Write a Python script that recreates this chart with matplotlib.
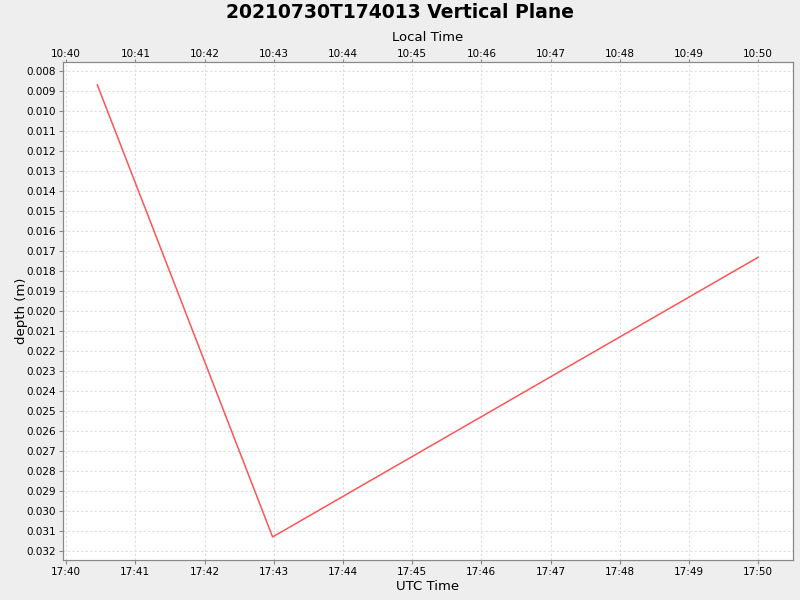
import datetime as dt
import matplotlib
matplotlib.use("Agg")
import matplotlib.pyplot as plt
import matplotlib.dates as mdates

# -------- DATA -------- #
utc_times = ["2021-07-30 17:40:27", "2021-07-30 17:42:59", "2021-07-30 17:50:00"]
depths = [0.00871, 0.03128, 0.01732]
y_ticks = [0.008 + 0.001 * i for i in range(25)]

local_offset = dt.timedelta(hours=-7)

t_utc = [dt.datetime.strptime(s, "%Y-%m-%d %H:%M:%S") for s in utc_times]
x_lo = dt.datetime(2021, 7, 30, 17, 39, 57)
x_hi = dt.datetime(2021, 7, 30, 17, 50, 30)

fig = plt.figure(figsize=(8, 6), dpi=100, facecolor="#eeeeee")
ax = fig.add_axes([0.0784, 0.0667, 0.9125, 0.83])
ax.set_facecolor("white")

ax.plot(t_utc, depths, color="#ff5555", linewidth=1.1)

ax.set_xlim(x_lo, x_hi)
ax.set_ylim(0.03243, 0.00757)
ax.set_yticks(y_ticks)
ax.yaxis.set_major_formatter(plt.FuncFormatter(lambda v, p: f"{v:.3f}"))
ax.xaxis.set_major_locator(mdates.MinuteLocator())
ax.xaxis.set_major_formatter(mdates.DateFormatter("%H:%M"))

ax.grid(True, color="#dddddd", linestyle=(0, (2, 2)), linewidth=0.8)
ax.set_xlabel("UTC Time", fontsize=9.5, labelpad=2)
ax.set_ylabel("depth (m)", fontsize=9.5, labelpad=-1)

# top axis - local time
ax2 = ax.twiny()
ax2.set_xlim(x_lo + local_offset, x_hi + local_offset)
ax2.xaxis.set_major_locator(mdates.MinuteLocator())
ax2.xaxis.set_major_formatter(mdates.DateFormatter("%H:%M"))
ax2.set_xlabel("Local Time", fontsize=9.5, labelpad=6)

for a in (ax, ax2):
    for side in a.spines.values():
        side.set_color("#888888")
    a.tick_params(labelsize=7.5, color="#888888", length=3, pad=2)
ax2.tick_params(axis="x", length=2, pad=0)

fig.suptitle("20210730T174013 Vertical Plane", fontsize=13.5, fontweight="bold", y=0.995)

fig.savefig("out.png", dpi=100, facecolor=fig.get_facecolor())
